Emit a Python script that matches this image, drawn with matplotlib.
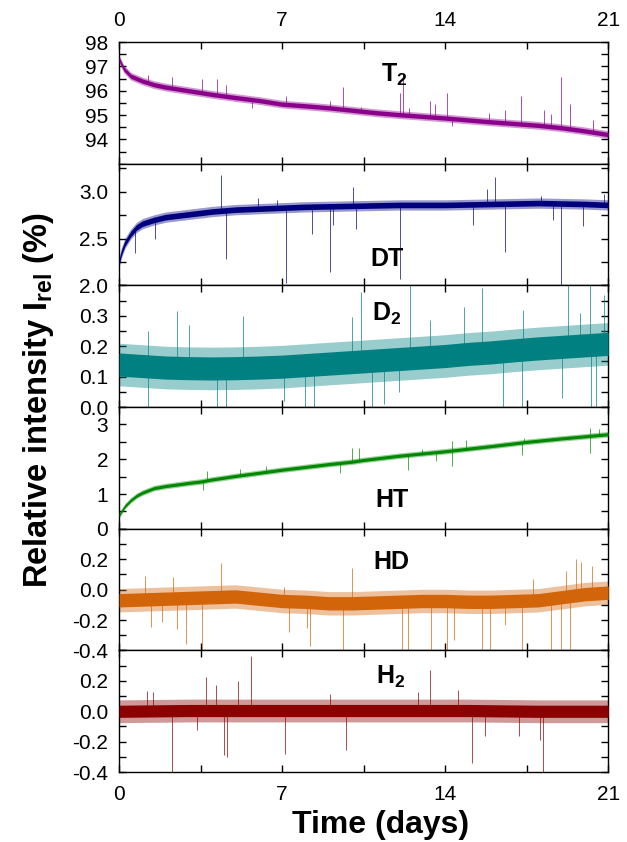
import numpy as np
import matplotlib
matplotlib.use("Agg")
import matplotlib.pyplot as plt
from matplotlib.ticker import MultipleLocator, FixedLocator

plt.rcParams['font.family'] = ['Liberation Sans', 'DejaVu Sans']
plt.rcParams['mathtext.fontset'] = 'custom'
plt.rcParams['mathtext.rm'] = 'Liberation Sans:bold'
plt.rcParams['mathtext.bf'] = 'Liberation Sans:bold'
plt.rcParams['mathtext.it'] = 'Liberation Sans:bold'
plt.rcParams['mathtext.default'] = 'bf'
plt.rcParams['axes.unicode_minus'] = False

# ---------------- data ----------------
# T2
t2_t = [0, 0.2, 0.5, 1, 1.5, 2, 3, 4, 5, 6, 7, 8, 9, 10, 11, 12, 13, 14, 15, 16, 17, 18, 19, 20, 21]
t2_v = [97.3, 96.9, 96.6, 96.4, 96.25, 96.15, 96.0, 95.85, 95.72, 95.6, 95.45, 95.38, 95.3, 95.2,
        95.1, 95.02, 94.95, 94.88, 94.8, 94.72, 94.65, 94.58, 94.48, 94.35, 94.2]
t2_noise = [0.09, 0.16]
t2_spk_t = [1.24, 2.28, 3.56, 4.2, 4.6, 7.17, 7.45, 9.06, 9.6, 10.4, 12.07, 12.17, 12.46, 13.36,
            13.55, 14.1, 15.9, 16.56, 17.27, 18.24, 18.55, 18.98, 19.35, 20.35, 5.7, 14.3]
t2_spk_v = [96.65, 96.55, 96.5, 96.5, 96.25, 95.8, 95.5, 95.6, 96.15, 95.35, 95.9, 96.7, 95.3, 95.6,
            95.45, 95.9, 95.1, 95.2, 95.78, 95.2, 95.05, 96.57, 95.45, 94.8, 95.3, 94.55]

# DT
dt_t = [0, 0.1, 0.25, 0.5, 0.75, 1, 1.5, 2, 3, 4, 5, 6, 7, 8, 10, 12, 14, 16, 18, 20, 21]
dt_v = [2.25, 2.35, 2.45, 2.55, 2.62, 2.66, 2.70, 2.73, 2.76, 2.79, 2.81, 2.82, 2.83, 2.84, 2.85,
        2.86, 2.86, 2.87, 2.88, 2.87, 2.86]
dt_noise = [0.03, 0.055]
dt_spk_t = [4.37, 5.96, 6.8, 10.03, 15.8, 16.15, 18.1, 20.8,
            0.7, 1.52, 4.6, 7.18, 8.28, 9.04, 9.2, 10.19, 12.07, 15.2, 16.58, 18.96, 18.65, 19.9]
dt_spk_v = [3.18, 2.93, 2.91, 3.05, 3.03, 3.16, 2.96, 2.98,
            2.35, 2.5, 2.28, 2.03, 2.55, 2.14, 2.65, 2.6, 2.07, 2.65, 2.36, 2.0, 2.7, 2.64]

# D2
d2_t = list(range(22))
d2_v = [0.14, 0.135, 0.13, 0.128, 0.127, 0.128, 0.13, 0.133, 0.138, 0.143, 0.148, 0.153, 0.158,
        0.163, 0.168, 0.175, 0.18, 0.187, 0.193, 0.198, 0.203, 0.208]
d2_noise = [0.038, 0.07]
d2_spk_t = [1.24, 2.48, 3.02, 5.33, 10.0, 10.37, 12.5, 13.34, 14.83, 15.6, 17.34, 19.27, 20.23,
            20.8, 19.8,
            1.24, 4.2, 4.57, 7.1, 7.99, 8.36, 10.84, 11.38, 12.03, 16.5, 17.3, 19.0, 20.28, 20.48]
d2_spk_v = [0.25, 0.317, 0.27, 0.30, 0.295, 0.38, 0.40, 0.285, 0.33, 0.39, 0.32, 0.40, 0.40,
            0.37, 0.31,
            0.0, 0.0, 0.0, 0.02, 0.0, 0.0, 0.0, 0.01, 0.05, 0.0, 0.0, 0.03, 0.0, 0.0]

# HT
ht_t = [0, 0.1, 0.25, 0.5, 0.75, 1, 1.5, 2, 3, 3.5, 4, 5, 6, 7, 8, 9, 10, 10.5, 12, 14, 16, 17.5, 19, 21]
ht_v = [0.39, 0.5, 0.65, 0.82, 0.95, 1.04, 1.17, 1.23, 1.32, 1.36, 1.42, 1.52, 1.61, 1.70, 1.78,
        1.86, 1.93, 1.98, 2.1, 2.23, 2.38, 2.5, 2.6, 2.72]
ht_noise = [0.045, 0.08]
ht_spk_t = [3.76, 3.6, 5.2, 6.3, 10.0, 9.5, 10.3, 12.4, 13.0, 13.6, 14.3, 14.3, 14.9, 17.4, 17.3,
            20.2, 20.2, 20.6]
ht_spk_v = [1.65, 1.12, 1.72, 1.82, 2.33, 1.6, 2.33, 1.7, 2.3, 1.95, 2.52, 1.8, 2.56, 2.6, 2.13,
            2.9, 2.18, 2.88]

# HD
hd_t = [0, 2, 4, 5, 6, 7, 8, 9, 10, 11, 12, 13, 14, 15, 16, 17, 18, 19, 20, 21]
hd_v = [-0.07, -0.06, -0.05, -0.045, -0.06, -0.075, -0.08, -0.09, -0.09, -0.085, -0.08, -0.075,
        -0.075, -0.08, -0.08, -0.075, -0.07, -0.05, -0.03, -0.02]
hd_noise = [0.044, 0.077]
hd_spk_t = [1.1, 2.3, 4.37, 9.98, 7.1, 17.75, 19.6, 19.85, 20.3, 19.2,
            1.36, 1.83, 2.5, 2.86, 3.56, 7.28, 8.2, 8.05, 9.6, 12.15, 12.4, 13.4, 14.06, 14.4,
            15.56, 15.94, 17.3, 18.54, 18.99, 19.35, 16.56]
hd_spk_v = [0.09, 0.085, 0.175, 0.14, 0.02, 0.07, 0.2, 0.18, 0.155, 0.12,
            -0.245, -0.21, -0.26, -0.355, -0.4, -0.28, -0.37, -0.25, -0.4, -0.4, -0.4, -0.4, -0.4,
            -0.33, -0.4, -0.4, -0.4, -0.4, -0.4, -0.4, -0.23]

# H2
h2_t = [0, 3, 6, 9, 12, 15, 18, 21]
h2_v = [0.0, 0.005, 0.005, 0.005, 0.005, 0.005, 0.0, 0.0]
h2_noise = [0.04, 0.075]
h2_spk_t = [1.19, 1.47, 3.72, 4.15, 5.1, 5.68, 9.06, 13.36, 14.55, 12.85,
            2.29, 3.33, 4.49, 4.64, 7.12, 9.75, 15.17, 15.7, 18.22, 18.08, 17.15]
h2_spk_v = [0.135, 0.125, 0.225, 0.175, 0.2, 0.365, 0.115, 0.27, 0.14, 0.125,
            -0.4, -0.125, -0.29, -0.3, -0.28, -0.255, -0.34, -0.16, -0.4, -0.19, -0.16]

labels = ['T$_2$', 'DT', 'D$_2$', 'HT', 'HD', 'H$_2$']
x_ticks = [0, 7, 14, 21]

# ---------------- styling ----------------
series = [
    (t2_t, t2_v, t2_noise, t2_spk_t, t2_spk_v, '#8B008B', (93, 98), [94, 95, 96, 97, 98], 0.5, (11.8, 96.36)),
    (dt_t, dt_v, dt_noise, dt_spk_t, dt_spk_v, '#00007F', (2.0, 3.3), [2.0, 2.5, 3.0], 0.25, (11.5, 2.21)),
    (d2_t, d2_v, d2_noise, d2_spk_t, d2_spk_v, '#008080', (0.0, 0.4), [0.0, 0.1, 0.2, 0.3], 0.05, (11.5, 0.285)),
    (ht_t, ht_v, ht_noise, ht_spk_t, ht_spk_v, '#008800', (0, 3.5), [0, 1, 2, 3], 0.5, (11.7, 0.64)),
    (hd_t, hd_v, hd_noise, hd_spk_t, hd_spk_v, '#D2650A', (-0.4, 0.4), [-0.4, -0.2, 0.0, 0.2], 0.1, (11.7, 0.138)),
    (h2_t, h2_v, h2_noise, h2_spk_t, h2_spk_v, '#8B0000', (-0.4, 0.4), [-0.4, -0.2, 0.0, 0.2], 0.1, (11.65, 0.18)),
]
fmts = ['{:.0f}', '{:.1f}', '{:.1f}', '{:.0f}', '{:.1f}', '{:.1f}']

fig, axes = plt.subplots(6, 1, figsize=(6.27, 8.42), dpi=100, sharex=True)
fig.subplots_adjust(left=0.19, right=0.97, bottom=0.083, top=0.950, hspace=0)

for i, (ax, s) in enumerate(zip(axes, series)):
    t, v, noise, st, sv, col, ylim, yt, ymin, lpos = s
    t = np.asarray(t, float)
    v = np.asarray(v, float)
    ax.fill_between(t, v - noise[1], v + noise[1], color=col, alpha=0.4, lw=0, zorder=2)
    ax.fill_between(t, v - noise[0], v + noise[0], color=col, alpha=1.0, lw=0, zorder=3)
    base = np.interp(st, t, v)
    ax.vlines(st, base, sv, color=col, lw=0.7, alpha=0.7, zorder=2)
    ax.set_xlim(0, 21)
    ax.set_ylim(*ylim)
    ax.set_yticks(yt)
    ax.set_yticklabels([fmts[i].format(y) for y in yt])
    ax.yaxis.set_minor_locator(MultipleLocator(ymin))
    ax.xaxis.set_major_locator(FixedLocator(x_ticks))
    ax.xaxis.set_minor_locator(MultipleLocator(3.5))
    ax.tick_params(which='both', direction='in', top=True, right=True, labelsize=15,
                   width=1.0, length=5)
    ax.tick_params(axis='y', pad=8)
    ax.tick_params(axis='x', pad=9)
    for sp in ax.spines.values():
        sp.set_linewidth(1.0)
    ax.text(lpos[0], lpos[1], labels[i], ha='center', va='baseline', fontsize=18,
            fontweight='bold', zorder=6)
    if i == 0:
        ax.tick_params(labeltop=True)
    if i < 5:
        ax.tick_params(labelbottom=False)

axes[-1].set_xticks(x_ticks)
axes[-1].set_xticklabels([str(x) for x in x_ticks])
axes[0].set_xticklabels([str(x) for x in x_ticks])
fig.text(381 / 627, 1 - 833 / 842, 'Time (days)', ha='center', va='baseline',
         fontsize=23, fontweight='bold')
fig.text(0.062, 0.525, 'Relative intensity I$_{rel}$ (%)', rotation=90, ha='center', va='center',
         fontsize=23.5, fontweight='bold')

fig.savefig('out.png', dpi=100)
